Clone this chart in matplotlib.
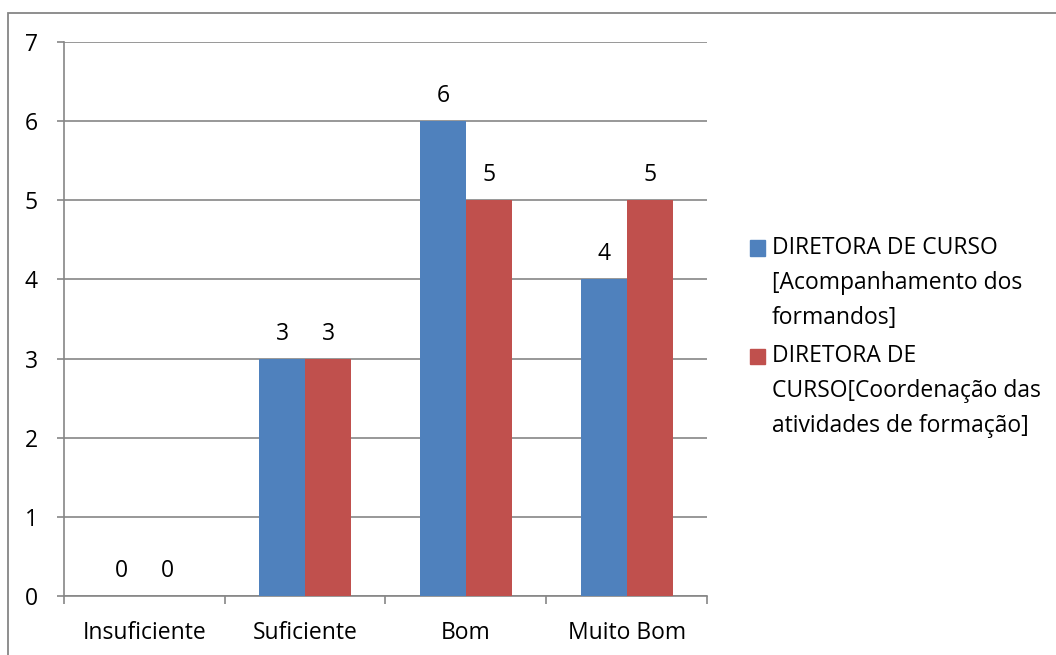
import matplotlib
matplotlib.use("Agg")
import matplotlib.pyplot as plt
import numpy as np
from matplotlib.patches import Rectangle

categories = ["Insuficiente", "Suficiente", "Bom", "Muito Bom"]
series_names = ["DIRETORA DE CURSO\n[Acompanhamento dos\nformandos]",
                "DIRETORA DE\nCURSO[Coordenação das\natividades de formação]"]
acompanhamento = [0, 3, 6, 4]
coordenacao = [0, 3, 5, 5]
yticks = [0, 1, 2, 3, 4, 5, 6, 7]

colors = ["#4F81BD", "#C0504D"]
grid_c = "#868686"
plt.rcParams['font.family'] = ['Open Sans', 'DejaVu Sans']
FS = 16.5

W, H = 1056, 655
fig = plt.figure(figsize=(W/100, H/100), dpi=100)

# outer chart border
fig.patches.append(Rectangle((8/W, -0.1), 1.2, 1 - 13/H + 0.1, transform=fig.transFigure,
                             fill=False, edgecolor=grid_c, linewidth=1.3))

L, R, T, B = 64, 707, 42, 596
ax = fig.add_axes([L/W, (H-B)/H, (R-L)/W, (B-T)/H])

x = np.arange(len(categories))
bw = 1/3.5
b1 = ax.bar(x - bw/2, acompanhamento, bw, color=colors[0], zorder=3)
b2 = ax.bar(x + bw/2, coordenacao, bw, color=colors[1], zorder=3)

for bars, vals in ((b1, acompanhamento), (b2, coordenacao)):
    for rect, v in zip(bars, vals):
        ax.annotate(str(v), (rect.get_x() + rect.get_width()/2, v),
                    xytext=(0, 25), textcoords="offset pixels",
                    ha="center", va="center", fontsize=FS, color="black")

ax.set_xlim(-0.5, len(categories) - 0.5)
ax.set_ylim(0, 7)
ax.set_yticks(yticks)
ax.set_yticklabels([str(t) for t in yticks], fontsize=FS)
ax.set_xticks(x)
ax.set_xticklabels(categories, fontsize=FS)
ax.tick_params(axis='x', length=0, pad=18)
ax.set_xticks(np.arange(len(categories) + 1) - 0.5, minor=True)
ax.tick_params(axis='x', which='minor', length=6, width=1.2, color=grid_c, direction='out')
ax.tick_params(axis='y', length=5, width=1.2, color=grid_c, direction='out', pad=14)

for s in ("top", "right"):
    ax.spines[s].set_visible(False)
for s in ("left", "bottom"):
    ax.spines[s].set_color(grid_c)
    ax.spines[s].set_linewidth(1.2)
ax.yaxis.grid(True, color=grid_c, linewidth=1.2, zorder=0)
ax.set_axisbelow(True)

# legend
lx = 772
sq = 15
for i, (name, c) in enumerate(zip(series_names, colors)):
    ty = [248, 356][i]
    fig.patches.append(Rectangle(((lx - 22)/W, (H - ty - sq/2)/H), sq/W, sq/H,
                                 transform=fig.transFigure, color=c))
    fig.text(lx/W, (H - ty + 12)/H, name, fontsize=FS, va="top", ha="left",
             linespacing=1.62)

fig.savefig("out.png", dpi=100)
